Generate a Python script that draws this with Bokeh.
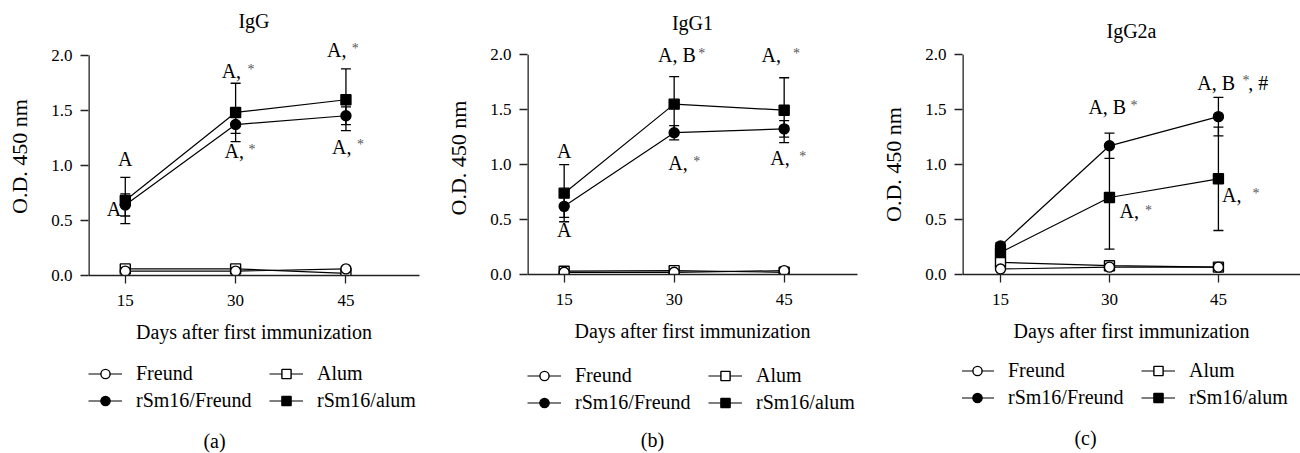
from bokeh.plotting import figure
from bokeh.layouts import row, column
from bokeh.models import (ColumnDataSource, Whisker, Legend, LegendItem, Label, Range1d,
                          FixedTicker, NumeralTickFormatter, TeeHead)
from bokeh.embed import file_html
from bokeh.resources import INLINE

FONT = "Liberation Serif"

days = [15, 30, 45]
y_ticks = [0.0, 0.5, 1.0, 1.5, 2.0]
titles = ["IgG", "IgG1", "IgG2a"]
sublabels = ["(a)", "(b)", "(c)"]
series_names = ["Freund", "Alum", "rSm16/Freund", "rSm16/alum"]
x_title = "Days after first immunization"
y_title = "O.D. 450 nm"

# IgG
igg_freund = [0.04, 0.04, 0.06]
igg_alum = [0.06, 0.06, 0.02]
igg_rsm_freund = [0.64, 1.37, 1.45]
igg_rsm_freund_err = [0.10, 0.08, 0.08]
igg_rsm_alum = [0.68, 1.48, 1.595]
igg_rsm_alum_err = [0.21, 0.265, 0.28]

# IgG1
igg1_freund = [0.02, 0.02, 0.035]
igg1_alum = [0.03, 0.035, 0.02]
igg1_rsm_freund = [0.62, 1.29, 1.325]
igg1_rsm_freund_err = [0.10, 0.065, 0.075]
igg1_rsm_alum = [0.74, 1.55, 1.495]
igg1_rsm_alum_err = [0.26, 0.25, 0.295]

# IgG2a
igg2a_freund = [0.05, 0.067, 0.067]
igg2a_alum = [0.11, 0.08, 0.067]
igg2a_rsm_freund = [0.26, 1.17, 1.435]
igg2a_rsm_freund_err = [0.03, 0.115, 0.175]
igg2a_rsm_alum = [0.20, 0.70, 0.87]
igg2a_rsm_alum_err = [0.03, 0.47, 0.47]

# significance labels: (text, x, y, align) and small asterisks (x, y)
notes_a = [("A", 15.0, 1.06, "center"), ("A", 14.46, 0.60, "right"),
           ("A,", 28.1, 1.855, "left"), ("A,", 28.5, 1.127, "left"),
           ("A,", 42.43, 2.045, "left"), ("A,", 43.1, 1.17, "left")]
stars_a = [(31.6, 1.87), (31.76, 1.14), (45.8, 2.06), (46.5, 1.185)]

notes_b = [("A", 15.0, 1.12, "center"), ("A", 15.0, 0.405, "center"),
           ("A, B", 27.8, 2.0, "left"), ("A,", 29.2, 1.01, "left"),
           ("A,", 41.9, 2.0, "left"), ("A,", 43.1, 1.06, "left")]
stars_b = [(33.3, 2.015), (32.6, 1.025), (46.2, 2.015), (47.06, 1.075)]

notes_c = [("A, B", 27.1, 1.527, "left"), ("A,", 31.4, 0.573, "left"),
           ("A, B", 42.1, 1.745, "left"), (", #", 49.1, 1.745, "left"),
           ("A,", 45.5, 0.72, "left")]
stars_c = [(32.9, 1.54), (34.9, 0.585), (48.3, 1.76), (49.7, 0.735)]

H_MAIN = 353
H_LEG = 100
PX_PER_UNIT = 110.0


def make_panel(title, fr, al, rf, rf_err, ra, ra_err, notes, stars, sub,
               width, left, right, x_start, x_end, top0, y_end, title_standoff,
               leg_x, leg_y, sub_x, sub_y):
    top = int(round(top0 - (y_end - 2.0) * PX_PER_UNIT))
    frame_h = int(round(y_end * PX_PER_UNIT))
    bottom = H_MAIN - top - frame_h
    frame_w = width - left - right
    p = figure(width=width, height=H_MAIN, x_range=Range1d(x_start, x_end),
               y_range=Range1d(0, y_end),
               output_backend="svg", toolbar_location=None,
               min_border_left=left, min_border_right=right,
               min_border_top=top, min_border_bottom=bottom)
    p.outline_line_color = None
    p.grid.visible = False
    p.background_fill_color = "white"
    p.border_fill_color = "white"

    p.title.text = title
    p.title.align = "center"
    p.title.text_font = FONT
    p.title.text_font_size = "20px"
    p.title.text_font_style = "normal"
    p.title.text_color = "black"
    p.title.standoff = title_standoff

    p.xaxis.ticker = FixedTicker(ticks=days)
    p.yaxis.ticker = FixedTicker(ticks=y_ticks)
    p.yaxis.formatter = NumeralTickFormatter(format="0.0")
    for ax in (p.xaxis, p.yaxis):
        ax.major_tick_out = 8
        ax.major_tick_in = 0
        ax.minor_tick_line_color = None
        ax.axis_line_color = "#222222"
        ax.major_tick_line_color = "#222222"
        ax.axis_line_width = 1.3
        ax.major_tick_line_width = 1.3
        ax.major_label_text_font = FONT
        ax.major_label_text_font_size = "17px"
        ax.major_label_text_color = "black"
        ax.axis_label_text_font = FONT
        ax.axis_label_text_font_style = "normal"
        ax.axis_label_text_color = "black"
    p.xaxis.major_label_standoff = 11
    p.yaxis.major_label_standoff = 8
    p.xaxis.axis_label = x_title
    p.xaxis.axis_label_text_font_size = "20px"
    p.xaxis.axis_label_standoff = 12
    p.yaxis.axis_label = y_title
    p.yaxis.axis_label_text_font_size = "22px"
    p.yaxis.axis_label_standoff = 16
    # the y axis line stops at the 2.0 tick
    p.yaxis.axis_line_color = None
    p.segment(x0=[x_start], y0=[y_ticks[0]], x1=[x_start], y1=[y_ticks[-1]],
              line_color="#222222", line_width=2.6)

    # error bars for the rSm16 groups
    for vals, errs in ((rf, rf_err), (ra, ra_err)):
        src = ColumnDataSource(dict(x=days,
                                    upper=[v + e for v, e in zip(vals, errs)],
                                    lower=[v - e for v, e in zip(vals, errs)]))
        w = Whisker(base="x", upper="upper", lower="lower", source=src,
                    line_color="black", line_width=1.3, level="underlay",
                    upper_head=TeeHead(size=10, line_color="black", line_width=1.3),
                    lower_head=TeeHead(size=10, line_color="black", line_width=1.3))
        p.add_layout(w)

    specs = {"Alum": (al, "square", "white"), "Freund": (fr, "circle", "white"),
             "rSm16/Freund": (rf, "circle", "black"), "rSm16/alum": (ra, "square", "black")}
    for name in ["Alum", "Freund", "rSm16/Freund", "rSm16/alum"]:
        vals, marker, fill = specs[name]
        p.line(days, vals, line_color="black", line_width=1.2)
        p.scatter(days, vals, marker=marker, size=10, fill_color=fill,
                  line_color="black", line_width=1.4)

    for text, x, y, align in notes:
        p.add_layout(Label(x=x, y=y, text=text, text_align=align, text_baseline="middle",
                           text_font=FONT, text_font_size="20px", text_color="black"))
    for x, y in stars:
        p.add_layout(Label(x=x, y=y, text="*", text_align="left", text_baseline="middle",
                           text_font=FONT, text_font_size="14px", text_color="#555555"))

    # legend strip below the plot; its frame lines up with the plot frame,
    # and its data space is in pixels measured from that frame's left edge
    lg = figure(width=width, height=H_LEG, x_range=Range1d(0, frame_w),
                y_range=Range1d(0, H_LEG),
                output_backend="svg", toolbar_location=None,
                min_border_left=left, min_border_right=right,
                min_border_top=0, min_border_bottom=0,
                x_axis_location=None, y_axis_location=None)
    lg.outline_line_color = None
    lg.grid.visible = False
    lg.background_fill_color = "white"
    lg.border_fill_color = "white"
    items = []
    for name in series_names:
        vals, marker, fill = specs[name]
        ln = lg.line(days, vals, line_color="black", line_width=1.2, visible=False)
        sc = lg.scatter(days, vals, marker=marker, size=10, fill_color=fill,
                        line_color="black", line_width=1.4, visible=False)
        items.append(LegendItem(label=name, renderers=[ln, sc]))
    legend = Legend(items=items, location=(leg_x, leg_y), orientation="horizontal", ncols=2,
                    glyph_width=34, glyph_height=23, label_height=23, label_width=129,
                    label_standoff=14, spacing=4, padding=0, margin=0,
                    label_text_font=FONT, label_text_font_size="20px",
                    label_text_color="black",
                    background_fill_alpha=0, border_line_alpha=0)
    lg.add_layout(legend)
    lg.add_layout(Label(x=sub_x, y=sub_y, text=sub, text_align="center",
                        text_baseline="middle", text_font=FONT, text_font_size="20px",
                        text_color="black"))
    return column(p, lg)


pa = make_panel(titles[0], igg_freund, igg_alum, igg_rsm_freund, igg_rsm_freund_err,
                igg_rsm_alum, igg_rsm_alum_err, notes_a, stars_a, sublabels[0],
                438, 88, 19, 10, 55, 55, 2.16, 11, 0, 41, 126, 13)
pb = make_panel(titles[1], igg1_freund, igg1_alum, igg1_rsm_freund, igg1_rsm_freund_err,
                igg1_rsm_alum, igg1_rsm_alum_err, notes_b, stars_b, sublabels[1],
                430, 89, 11, 10, 55, 54, 2.12, 16, 0, 39.5, 125, 14)
pc = make_panel(titles[2], igg2a_freund, igg2a_alum, igg2a_rsm_freund, igg2a_rsm_freund_err,
                igg2a_rsm_alum, igg2a_rsm_alum_err, notes_c, stars_c, sublabels[2],
                432, 94, 0, 9.77, 56.3, 54, 2.0, 25, -2, 44.5, 123, 16)

layout = row(pa, pb, pc)
open("out.html", "w").write(file_html(layout, INLINE))
